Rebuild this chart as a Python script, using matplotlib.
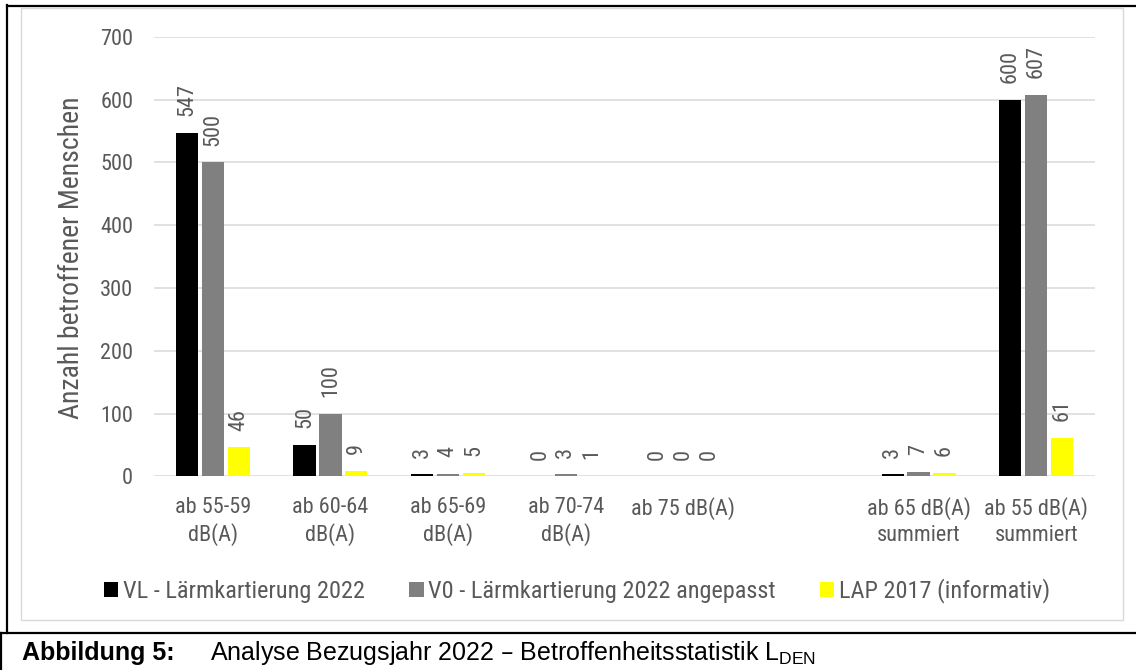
import matplotlib
matplotlib.use("Agg")
import matplotlib.pyplot as plt
from matplotlib.lines import Line2D
from matplotlib.patches import Rectangle
import numpy as np

categories = ["ab 55-59\ndB(A)", "ab 60-64\ndB(A)", "ab 65-69\ndB(A)", "ab 70-74\ndB(A)",
              "ab 75 dB(A)", "", "ab 65 dB(A)\nsummiert", "ab 55 dB(A)\nsummiert"]
series_names = ["VL - Lärmkartierung 2022", "V0 - Lärmkartierung 2022 angepasst", "LAP 2017 (informativ)"]
vl = [547, 50, 3, 0, 0, None, 3, 600]
v0 = [500, 100, 4, 3, 0, None, 7, 607]
lap = [46, 9, 5, 1, 0, None, 6, 61]
yticks = [0, 100, 200, 300, 400, 500, 600, 700]
colors = ["#000000", "#808080", "#FFFF00"]

plt.rcParams["font.family"] = ["Roboto Condensed", "Liberation Sans", "DejaVu Sans"]

W, H = 1136, 670
fig = plt.figure(figsize=(W / 100, H / 100), dpi=100)

def fx(px):
    return px / W

def fy(py):
    return 1 - py / H

ax = fig.add_axes([fx(154), fy(476.3), fx(1095) - fx(154), fy(36.7) - fy(476.3)])
TXT = "#595959"
x = np.arange(len(categories))
step = 0.22
bw = 0.19
for i, (vals, c, name) in enumerate(zip([vl, v0, lap], colors, series_names)):
    xs = [xi + (i - 1) * step for xi, v in zip(x, vals) if v is not None]
    vs = [v for v in vals if v is not None]
    ax.bar(xs, vs, width=bw, color=c, label=name, zorder=3)
    for xx, v in zip(xs, vs):
        ax.annotate(str(v), (xx, v), xytext=(0, 12), textcoords="offset points",
                    rotation=90, ha="center", va="bottom", fontsize=16, color=TXT)

ax.set_xlim(-0.5, len(categories) - 0.5)
ax.set_ylim(0, 700)
ax.set_yticks(yticks)
ax.set_xticks(x)
ax.set_xticklabels(categories, fontsize=16, color=TXT, linespacing=1.3)
ax.tick_params(axis="y", length=0, pad=15, labelsize=16, labelcolor=TXT)
ax.tick_params(axis="x", length=0, pad=15)
for s in ax.spines.values():
    s.set_visible(False)
ax.grid(axis="y", color="#d9d9d9", linewidth=1.1, zorder=0)
ax.set_axisbelow(True)

fig.text(fx(72), fy(258), "Anzahl betroffener Menschen", rotation=90, ha="center", va="center",
         fontsize=20, color=TXT)

leg = fig.legend(loc="center", bbox_to_anchor=(fx(577), fy(591)), ncol=3, frameon=False,
                 fontsize=17.5, handlelength=0.6, handleheight=0.6, handletextpad=0.2,
                 columnspacing=1.8, borderaxespad=0)
for t in leg.get_texts():
    t.set_color(TXT)

# chart-area border (light gray) and outer black frame
fig.add_artist(Rectangle((fx(21), fy(620)), fx(1123) - fx(21), fy(8) - fy(620),
                         transform=fig.transFigure, fill=False, edgecolor="#d9d9d9", linewidth=1.0))
fig.add_artist(Line2D([fx(7), fx(7)], [fy(5), fy(633)], transform=fig.transFigure, color="black", linewidth=1.6))
fig.add_artist(Line2D([fx(7), 1], [fy(6), fy(6)], transform=fig.transFigure, color="black", linewidth=1.6))
fig.add_artist(Line2D([0, 1], [fy(633), fy(633)], transform=fig.transFigure, color="black", linewidth=1.6))
fig.add_artist(Line2D([fx(1), fx(1)], [fy(633), 0], transform=fig.transFigure, color="black", linewidth=1.6))

cap_font = ["Liberation Sans", "DejaVu Sans"]
fig.text(fx(22), fy(653), "Abbildung 5:", fontsize=18, fontweight="bold", family=cap_font,
         ha="left", va="center", color="black")
fig.text(fx(210), fy(653), "Analyse Bezugsjahr 2022 – Betroffenheitsstatistik L$_\\mathregular{DEN}$",
         fontsize=18, family=cap_font, ha="left", va="center", color="black")

fig.savefig("out.png", dpi=100)
